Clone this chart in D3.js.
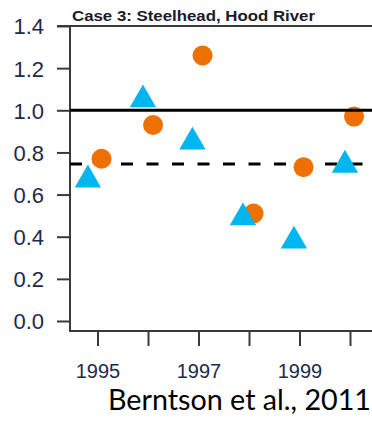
<!DOCTYPE html>
<html>
<head>
<meta charset="utf-8">
<script src="https://cdn.jsdelivr.net/npm/d3@7"></script>
<style>
  html, body { margin: 0; padding: 0; background: #fff; }
  svg { display: block; }
</style>
</head>
<body>
<svg id="chart" width="372" height="425"></svg>
<script>
// Hood River steelhead: relative reproductive success by year
const title = "Case 3: Steelhead, Hood River";
const source = "Berntson et al., 2011";

// triangle series (sampling dates as fractional years)
const triYears  = [1994.81, 1995.90, 1996.88, 1997.88, 1998.89, 1999.90];
const triValues = [0.67, 1.05, 0.85, 0.49, 0.38, 0.74];

// circle series
const dotYears  = [1995.08, 1996.10, 1997.08, 1998.09, 1999.08, 2000.08];
const dotValues = [0.77, 0.93, 1.26, 0.51, 0.73, 0.97];

// reference levels
const parityLevel = 1.0;
const meanLevel = 0.745;

// axis ticks
const yTicks = [0, 0.2, 0.4, 0.6, 0.8, 1.0, 1.2, 1.4];
const xTicks = [1995, 1996, 1997, 1998, 1999, 2000];
const xTickLabels = ["1995", "", "1997", "", "1999", ""];

const svg = d3.select("#chart");
const plotLeft = 70, plotRight = 372, plotTop = 26, plotBottom = 331;

const y = d3.scaleLinear().domain([0, 1.4]).range([321, 26]);
const x = d3.scaleLinear().domain([1995, 2000]).range([97.5, 350]);

const axisColor = "#3a3a3a";
const labelColor = "#1e2a4a";

// y axis
const yAxis = svg.append("g")
  .attr("transform", `translate(${plotLeft},0)`)
  .call(d3.axisLeft(y).tickValues(yTicks).tickSize(13).tickSizeOuter(0)
    .tickFormat(d3.format(".1f")));
yAxis.select(".domain").remove();
yAxis.selectAll(".tick line").attr("stroke", axisColor).attr("stroke-width", 2);
yAxis.selectAll(".tick text")
  .attr("x", -26)
  .attr("dy", "0.36em")
  .attr("fill", labelColor)
  .style("font-family", "Liberation Sans, Arial, sans-serif")
  .style("font-size", "22px");

// x axis
const xAxis = svg.append("g")
  .attr("transform", `translate(0,${plotBottom})`)
  .call(d3.axisBottom(x).tickValues(xTicks).tickSize(15).tickSizeOuter(0)
    .tickFormat((d, i) => xTickLabels[i]));
xAxis.select(".domain").remove();
xAxis.selectAll(".tick line").attr("stroke", axisColor).attr("stroke-width", 2);
xAxis.selectAll(".tick text")
  .attr("y", 33)
  .attr("dy", "0.71em")
  .attr("fill", labelColor)
  .style("font-family", "Liberation Sans, Arial, sans-serif")
  .style("font-size", "20px");

// frame: left spine, bottom spine, top border
svg.append("path")
  .attr("d", `M${plotLeft},${plotTop}V${plotBottom}H${plotRight}`)
  .attr("fill", "none").attr("stroke", axisColor).attr("stroke-width", 2);
svg.append("line")
  .attr("x1", 57).attr("x2", plotRight).attr("y1", y(1.4)).attr("y2", y(1.4))
  .attr("stroke", axisColor).attr("stroke-width", 2);

// dashed mean level
svg.append("line")
  .attr("x1", plotLeft).attr("x2", 363)
  .attr("y1", y(meanLevel)).attr("y2", y(meanLevel))
  .attr("stroke", "#000").attr("stroke-width", 3)
  .attr("stroke-dasharray", "12,13.5");

// triangles
const triData = triYears.map((t, i) => ({ t, v: triValues[i] }));
const tris = svg.append("g").selectAll("path")
  .data(triData).join("path")
  .attr("d", d3.symbol().type(d3.symbolTriangle).size(300))
  .attr("transform", d => `translate(${x(d.t)},${y(d.v)})`)
  .attr("fill", "#00b6f0");

// circles
const dotData = dotYears.map((t, i) => ({ t, v: dotValues[i] }));
svg.append("g").selectAll("circle")
  .data(dotData).join("circle")
  .attr("cx", d => x(d.t))
  .attr("cy", d => y(d.v))
  .attr("r", 10)
  .attr("fill", "#ee7000");

// the 1998 triangle sits in front of its circle
svg.append(() => tris.filter((d, i) => i === 3).remove().node());

// solid parity level
svg.append("line")
  .attr("x1", plotLeft).attr("x2", plotRight)
  .attr("y1", y(parityLevel)).attr("y2", y(parityLevel))
  .attr("stroke", "#000").attr("stroke-width", 3);

// title
svg.append("text")
  .attr("x", 72).attr("y", 21)
  .attr("textLength", 243).attr("lengthAdjust", "spacingAndGlyphs")
  .attr("fill", "#1c1a2c")
  .style("font-family", "Liberation Sans, Arial, sans-serif")
  .style("font-weight", "bold")
  .style("font-size", "14px")
  .text(title);

// source note
svg.append("text")
  .attr("x", 108).attr("y", 410)
  .attr("textLength", 263).attr("lengthAdjust", "spacingAndGlyphs")
  .attr("fill", "#000")
  .style("font-family", "Lato, 'Open Sans', sans-serif")
  .style("font-size", "28px")
  .text(source);
</script>
</body>
</html>
